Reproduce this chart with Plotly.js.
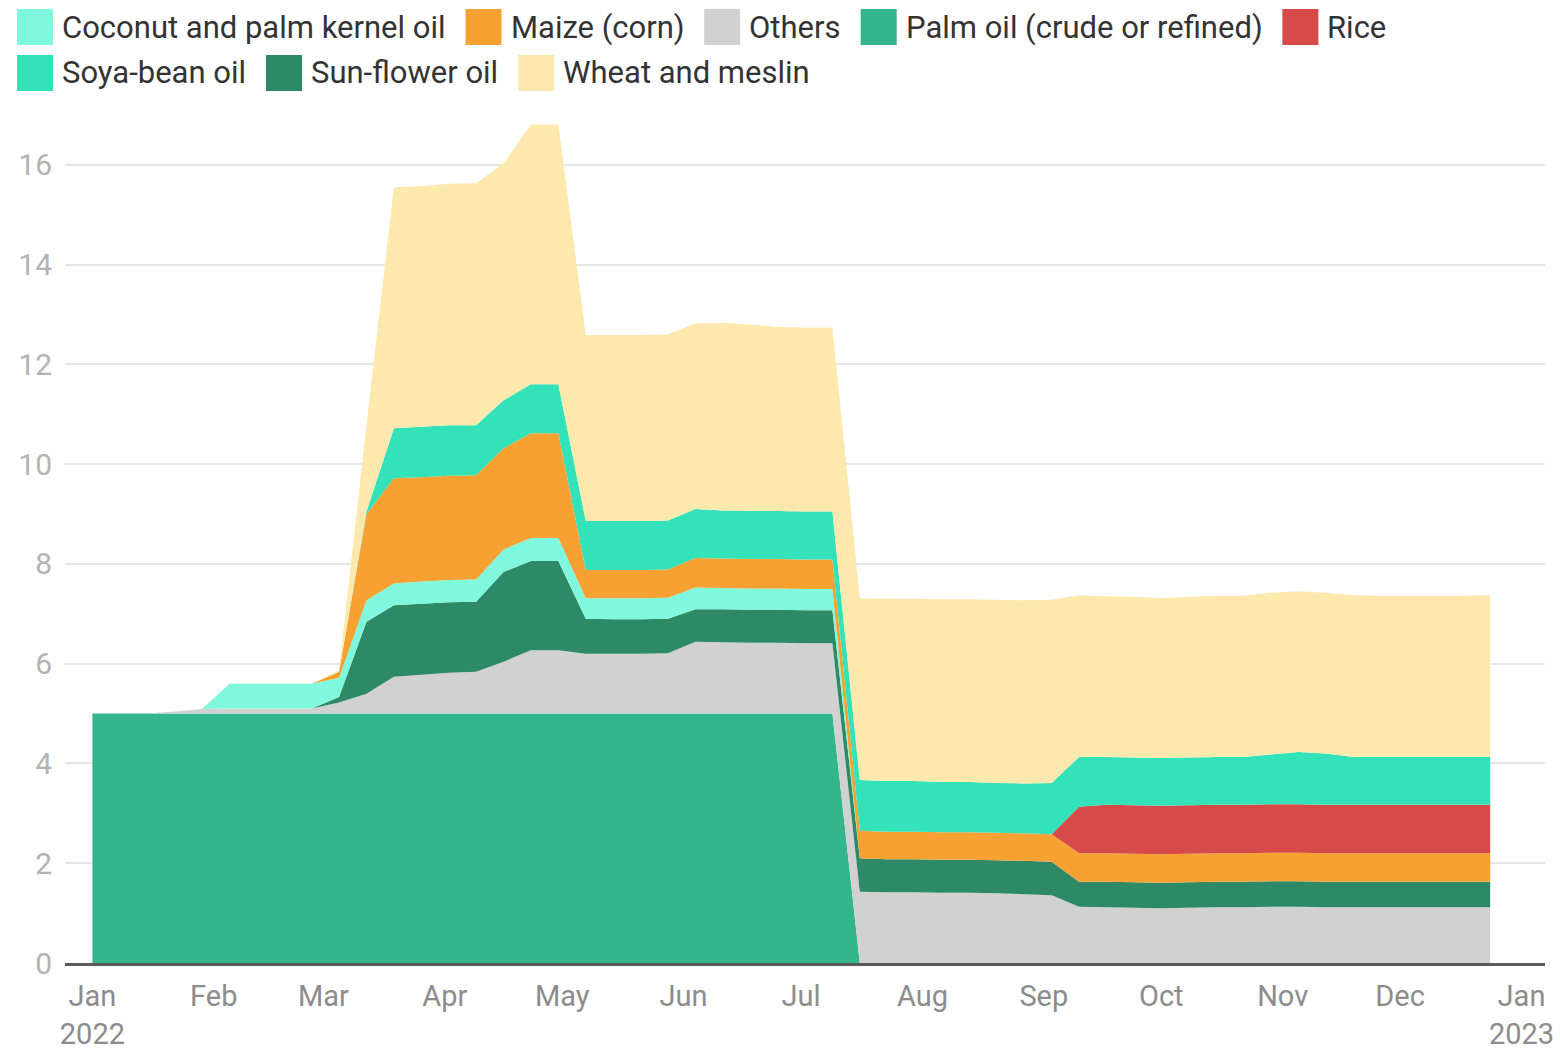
<!DOCTYPE html>
<html>
<head>
<meta charset="utf-8">
<script src="https://cdn.plot.ly/plotly-3.0.1.min.js"></script>
<style>
html,body{margin:0;padding:0;background:#ffffff;}
#chart{width:1560px;height:1051px;}
</style>
</head>
<body>
<div id="chart"></div>
<script>
// ---- DATA ----
const dates = [
  "2022-01-01","2022-01-08","2022-01-15","2022-01-22","2022-01-29",
  "2022-02-05","2022-02-12","2022-02-19","2022-02-26",
  "2022-03-05","2022-03-12","2022-03-19","2022-03-26",
  "2022-04-02","2022-04-09","2022-04-16","2022-04-23","2022-04-30",
  "2022-05-07","2022-05-14","2022-05-21","2022-05-28",
  "2022-06-04","2022-06-11","2022-06-18","2022-06-25",
  "2022-07-02","2022-07-09","2022-07-16","2022-07-23","2022-07-30",
  "2022-08-06","2022-08-13","2022-08-20","2022-08-27",
  "2022-09-03","2022-09-10","2022-09-17","2022-09-24",
  "2022-10-01","2022-10-08","2022-10-15","2022-10-22","2022-10-29",
  "2022-11-05","2022-11-12","2022-11-19","2022-11-26",
  "2022-12-03","2022-12-10","2022-12-17","2022-12-24"
];

const palmOil = [
  5,5,5,5,5, 5,5,5,5, 5,5,5,5, 5,5,5,5,5, 5,5,5,5, 5,5,5,5, 5,5,0,0,0,
  0,0,0,0, 0,0,0,0, 0,0,0,0,0, 0,0,0,0, 0,0,0,0
];
const others = [
  0,0,0,0.04,0.09, 0.1,0.1,0.1,0.1, 0.22,0.4,0.74,0.78, 0.82,0.84,1.04,1.27,1.27,
  1.2,1.2,1.2,1.21, 1.44,1.43,1.42,1.42, 1.41,1.41,1.43,1.42,1.42,
  1.41,1.41,1.4,1.38, 1.36,1.13,1.12,1.11, 1.1,1.11,1.12,1.12,1.13,
  1.13,1.12,1.12,1.12, 1.12,1.12,1.12,1.12
];
const sunflowerOil = [
  0,0,0,0,0, 0,0,0,0, 0.11,1.44,1.43,1.42, 1.41,1.4,1.8,1.79,1.79,
  0.7,0.69,0.69,0.69, 0.65,0.66,0.66,0.66, 0.66,0.66,0.67,0.66,0.66,
  0.66,0.66,0.66,0.67, 0.67,0.5,0.51,0.51, 0.51,0.51,0.51,0.51,0.51,
  0.51,0.51,0.51,0.51, 0.51,0.51,0.51,0.51
];
const coconutOil = [
  0,0,0,0,0, 0.5,0.5,0.5,0.5, 0.39,0.43,0.44,0.45, 0.45,0.45,0.45,0.46,0.46,
  0.41,0.42,0.42,0.42, 0.44,0.43,0.43,0.43, 0.43,0.43,0,0,0,
  0,0,0,0, 0,0,0,0, 0,0,0,0,0, 0,0,0,0, 0,0,0,0
];
const maize = [
  0,0,0,0,0, 0,0,0,0, 0.12,1.73,2.11,2.09, 2.09,2.09,2.03,2.1,2.1,
  0.57,0.57,0.57,0.57, 0.59,0.59,0.59,0.59, 0.59,0.59,0.55,0.55,0.55,
  0.55,0.55,0.55,0.55, 0.55,0.57,0.57,0.57, 0.57,0.57,0.57,0.57,0.57,
  0.57,0.57,0.57,0.57, 0.57,0.57,0.57,0.57
];
const rice = [
  0,0,0,0,0, 0,0,0,0, 0,0,0,0, 0,0,0,0,0, 0,0,0,0, 0,0,0,0, 0,0,0,0,0,
  0,0,0,0, 0,0.93,0.97,0.97, 0.97,0.97,0.97,0.97,0.97,
  0.97,0.97,0.97,0.97, 0.97,0.97,0.97,0.97
];
const soyaOil = [
  0,0,0,0,0, 0,0,0,0, 0,0.05,1.0,1.01, 1.01,1.0,0.96,0.98,0.98,
  0.98,0.98,0.98,0.98, 0.98,0.96,0.96,0.96, 0.96,0.96,1.02,1.02,1.02,
  1.01,1.01,1.0,1.0, 1.03,1.0,0.96,0.96, 0.96,0.96,0.96,0.96,1.0,
  1.05,1.03,0.96,0.96, 0.96,0.96,0.96,0.96
];
const wheat = [
  0,0,0,0,0, 0,0,0,0, 0.03,1.73,4.83,4.82, 4.84,4.85,4.75,5.21,5.21,
  3.73,3.73,3.73,3.73, 3.72,3.76,3.74,3.69, 3.69,3.69,3.64,3.65,3.65,
  3.66,3.66,3.67,3.67, 3.67,3.24,3.22,3.22, 3.2,3.22,3.23,3.23,3.24,
  3.22,3.22,3.24,3.23, 3.23,3.23,3.23,3.24
];

const tickVals = ["2022-01-01","2022-02-01","2022-03-01","2022-04-01","2022-05-01","2022-06-01",
  "2022-07-01","2022-08-01","2022-09-01","2022-10-01","2022-11-01","2022-12-01","2023-01-01"];
const tickText = ["Jan<br>2022","Feb","Mar","Apr","May","Jun","Jul","Aug","Sep","Oct","Nov","Dec","Jan<br>2023"];

// stack order bottom -> top
const stack = [
  {name:"Palm oil (crude or refined)", y:palmOil, color:"#34b68c"},
  {name:"Others", y:others, color:"#d1d1d1"},
  {name:"Sun-flower oil", y:sunflowerOil, color:"#2e8a66"},
  {name:"Coconut and palm kernel oil", y:coconutOil, color:"#80f8de"},
  {name:"Maize (corn)", y:maize, color:"#f7a132"},
  {name:"Rice", y:rice, color:"#d64a4a"},
  {name:"Soya-bean oil", y:soyaOil, color:"#34e2b9"},
  {name:"Wheat and meslin", y:wheat, color:"#fde8ae"}
];
// legend order (alphabetical)
const legendOrder = ["Coconut and palm kernel oil","Maize (corn)","Others","Palm oil (crude or refined)",
  "Rice","Soya-bean oil","Sun-flower oil","Wheat and meslin"];

const traces = stack.map(s => ({
  type:"scatter", mode:"none", x:dates, y:s.y, name:s.name,
  stackgroup:"one", fillcolor:s.color, line:{width:0}, showlegend:false,
  hoverinfo:"x+y+name"
}));

// ---- LAYOUT ----
const W = 1560, H = 1051;
const M = {l:65, r:15, t:110, b:88};
const pw = W - M.l - M.r, ph = H - M.t - M.b;
const px2paperX = px => (px - M.l) / pw;
const py2paperY = py => (H - M.b - py) / ph;

const FONT = "Roboto, 'Noto Sans', sans-serif";
const legFS = 31;
const cv = document.createElement("canvas").getContext("2d");
cv.font = legFS + "px Roboto";

const shapes = [], annotations = [];
let cx = 17, rowY = 27;
const sw = 36, gapText = 9, gapItem = 20;
legendOrder.forEach(n => {
  const s = stack.find(t => t.name === n);
  const tw = cv.measureText(n).width;
  if (cx + sw + gapText + tw > W - 10) { cx = 17; rowY += 46; }
  shapes.push({type:"rect", xref:"paper", yref:"paper",
    x0:px2paperX(cx), x1:px2paperX(cx+sw), y0:py2paperY(rowY+sw/2), y1:py2paperY(rowY-sw/2),
    fillcolor:s.color, line:{width:0}});
  annotations.push({xref:"paper", yref:"paper", x:px2paperX(cx+sw+gapText-2), y:py2paperY(rowY),
    xanchor:"left", yanchor:"middle", showarrow:false, text:n,
    font:{family:FONT, size:legFS, color:"#333333"}});
  cx += sw + gapText + tw + gapItem;
});

const layout = {
  width:W, height:H,
  margin:M,
  paper_bgcolor:"#ffffff", plot_bgcolor:"#ffffff",
  showlegend:false,
  font:{family:FONT},
  xaxis:{
    type:"date", range:["2021-12-25","2023-01-07"],
    tickmode:"array", tickvals:tickVals, ticktext:tickText,
    ticks:"", showgrid:false, zeroline:false,
    showline:true, linecolor:"#5a5a5a", linewidth:3,
    tickfont:{family:FONT, size:29, color:"#8c8c8c"},
    ticklabelstandoff:5
  },
  yaxis:{
    range:[0,17.1], tickmode:"linear", tick0:0, dtick:2,
    ticks:"", showgrid:true, gridcolor:"#e6e6e6", gridwidth:2,
    zeroline:false, showline:false,
    tickfont:{family:FONT, size:30, color:"#b3b3b3"},
    ticklabelstandoff:12
  },
  shapes:shapes,
  annotations:annotations
};

Plotly.newPlot("chart", traces, layout, {displayModeBar:false, staticPlot:true});
</script>
</body>
</html>
